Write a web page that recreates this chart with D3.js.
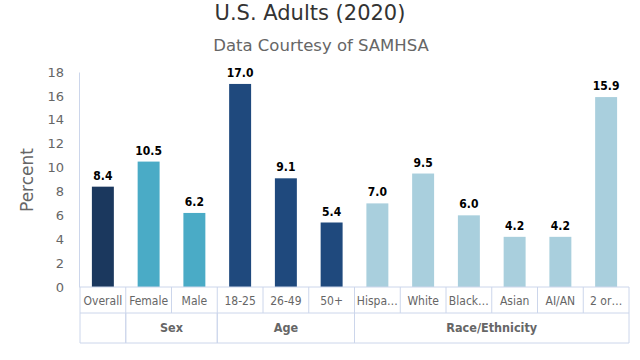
<!DOCTYPE html>
<html><head><meta charset="utf-8">
<script src="https://cdn.jsdelivr.net/npm/d3@7"></script>
<style>body{margin:0;background:#fff}svg{display:block;font-family:"DejaVu Sans",sans-serif}.cond{font-family:"DejaVu Sans Condensed","DejaVu Sans",sans-serif}</style>
</head><body><svg id="c" width="640" height="360"></svg>
<script>
const categories = ["Overall","Female","Male","18-25","26-49","50+","Hispanic","White","Black or African American","Asian","AI/AN","2 or more races"];
const groupOf = ["","Sex","Sex","Age","Age","Age","Race/Ethnicity","Race/Ethnicity","Race/Ethnicity","Race/Ethnicity","Race/Ethnicity","Race/Ethnicity"];
const values = [8.4,10.5,6.2,17.0,9.1,5.4,7.0,9.5,6.0,4.2,4.2,15.9];
const groups = ["","Sex","Age","Race/Ethnicity"];
const groupColors = {"":"#1b385e","Sex":"#4aabc6","Age":"#1f497d","Race/Ethnicity":"#a9cfdd"};
const yTicks = [0,2,4,6,8,10,12,14,16,18];

const svg = d3.select("#c");
const L=80,R=629,T=72,B=287;
const x = d3.scaleBand().domain(d3.range(categories.length)).range([L,R]).paddingInner(0.52).paddingOuter(0.26);
const xb = d3.scaleBand().domain(d3.range(categories.length)).range([L,R]);
const y = d3.scaleLinear().domain([0,18]).range([B,T]);
const grid="#ccd6eb";

svg.append("text").attr("x",310).attr("y",20).attr("text-anchor","middle").attr("font-size",21).attr("fill","#333").text("U.S. Adults (2020)");
svg.append("text").attr("x",321).attr("y",51).attr("text-anchor","middle").attr("font-size",16.5).attr("fill","#666").text("Data Courtesy of SAMHSA");

// y axis
const ya = svg.append("g").attr("transform",`translate(${L-1},0)`).call(d3.axisLeft(y).tickValues(yTicks).tickSize(0).tickPadding(15));
ya.select(".domain").attr("stroke",grid);
ya.selectAll("text").attr("font-size",13).attr("fill","#666").attr("font-family","DejaVu Sans");
svg.append("text").attr("transform","translate(33,180) rotate(-90)").attr("text-anchor","middle").attr("font-size",17).attr("fill","#666").text("Percent");

// bars
svg.selectAll("rect.bar").data(values).join("rect").attr("class","bar")
  .attr("x",(d,i)=>x(i)).attr("width",x.bandwidth())
  .attr("y",d=>y(d)).attr("height",d=>B-y(d))
  .attr("fill",(d,i)=>groupColors[groupOf[i]]);
svg.selectAll("text.val").data(values).join("text").attr("class","val cond")
  .attr("x",(d,i)=>x(i)+x.bandwidth()/2).attr("y",d=>y(d)-7)
  .attr("text-anchor","middle").attr("font-size",12).attr("font-weight","bold").attr("fill","#000")
  .text(d=>d.toFixed(1));

// grouped category axis
const row1=B, row2=313, row3=343;
const ax = svg.append("g");
ax.append("line").attr("x1",L).attr("x2",R).attr("y1",row2).attr("y2",row2).attr("stroke",grid);
ax.append("line").attr("x1",L).attr("x2",R).attr("y1",row3).attr("y2",row3).attr("stroke",grid);
ax.append("line").attr("x1",L).attr("x2",R).attr("y1",row1).attr("y2",row1).attr("stroke",grid);
d3.range(categories.length+1).forEach(i=>{
  const xx = i<categories.length? xb(i) : R;
  ax.append("line").attr("x1",xx).attr("x2",xx).attr("y1",row1).attr("y2",row2).attr("stroke",grid);
});
const spans=[];
groups.forEach(g=>{
  const idx=groupOf.map((v,i)=>v===g?i:-1).filter(i=>i>=0);
  spans.push({g, x0:xb(idx[0]), x1:xb(idx[idx.length-1])+xb.bandwidth()});
});
spans.forEach(s=>{
  ax.append("line").attr("x1",s.x0).attr("x2",s.x0).attr("y1",row2).attr("y2",row3).attr("stroke",grid);
  ax.append("line").attr("x1",s.x1).attr("x2",s.x1).attr("y1",row2).attr("y2",row3).attr("stroke",grid);
  ax.append("text").attr("class","cond").attr("x",(s.x0+s.x1)/2).attr("y",332).attr("text-anchor","middle")
    .attr("font-size",12.5).attr("font-weight","bold").attr("fill","#666").text(s.g);
});
categories.forEach((c,i)=>{
  const t = ax.append("text").attr("class","cond").attr("x",xb(i)+xb.bandwidth()/2).attr("y",305).attr("text-anchor","middle")
    .attr("font-size",12).attr("fill","#666").text(c);
  const maxW = xb.bandwidth()-2;
  if (t.node().getComputedTextLength()>maxW){
    let s=c;
    while(s.length>1){ s=s.slice(0,-1); t.text(s.trimEnd()+"…"); if(t.node().getComputedTextLength()<=maxW) break; }
  }
});
</script></body></html>
